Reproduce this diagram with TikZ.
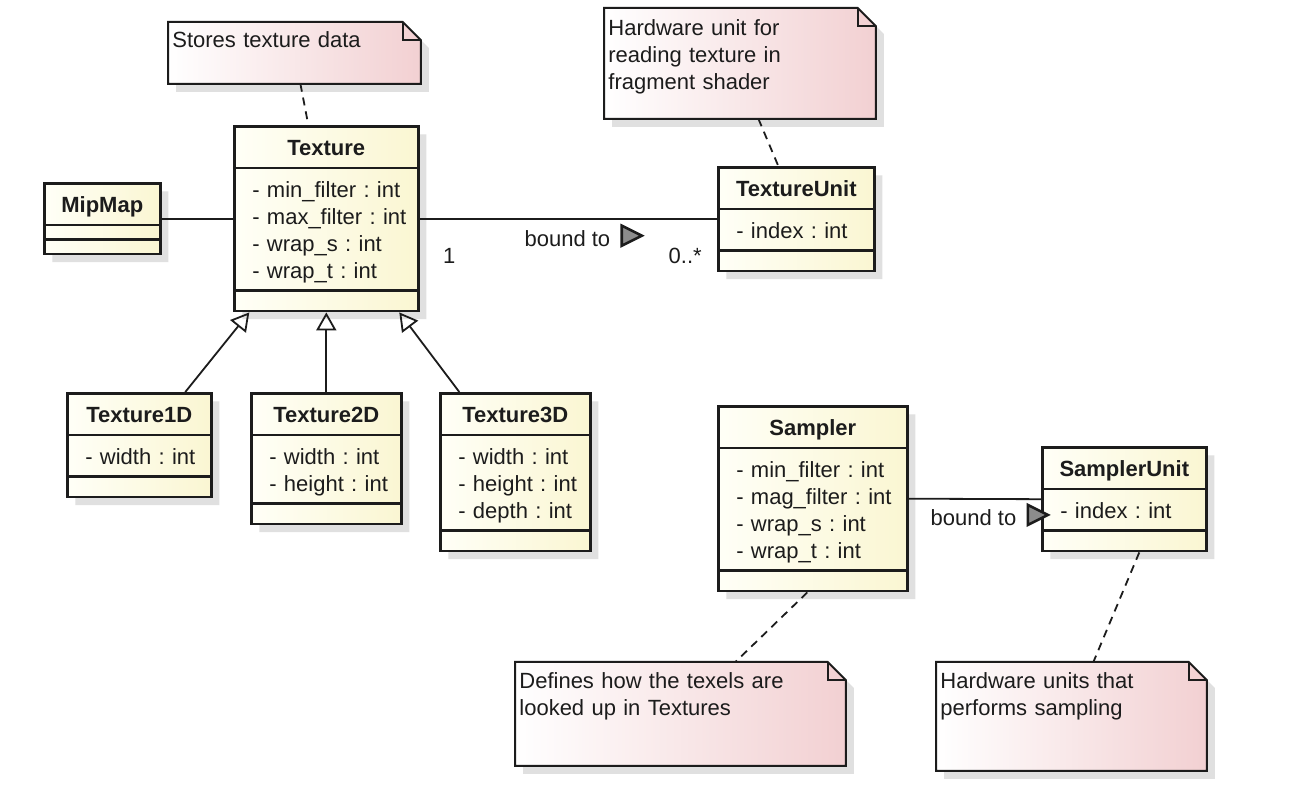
\documentclass[tikz,border=0pt]{standalone}
\usepackage{fontspec}
\setmainfont{Liberation Sans}
\usetikzlibrary{shapes.multipart,shadows,arrows.meta}

\definecolor{ink}{RGB}{28,28,28}
\definecolor{classlight}{RGB}{255,255,247}
\definecolor{classdark}{RGB}{250,246,210}
\definecolor{notepink}{RGB}{242,208,210}

\pgfdeclarelayer{background}
\pgfsetlayers{background,main}

% one row of a class box
\newcommand{\attrrow}{\hspace*{4pt}\rule[-2.4pt]{0pt}{13.5pt}}
\newcommand{\titlerow}[1]{\makebox[\hsize]{\bfseries\rule[-2.5pt]{0pt}{13.5pt}#1}}
\newcommand{\emptyrow}{\rule{0pt}{3pt}}

% folded paper behind a note
\newcommand{\foldnote}[1]{%
  \path[notepaper] (#1.north west) -- ([xshift=-9pt]#1.north east)
    -- ([yshift=-9pt]#1.north east) -- (#1.south east) -- (#1.south west) -- cycle;
  \draw[ink,line width=1pt] ([xshift=-9pt]#1.north east) |- ([yshift=-9pt]#1.north east);}

\tikzset{
  umlclass/.style={rectangle split, rectangle split parts=3, anchor=north west,
    draw=ink, line width=1.3pt, left color=classlight, right color=classdark,
    inner xsep=5pt, inner ysep=3pt, align=left,
    rectangle split empty part height=0pt,
    drop shadow={shadow xshift=4pt,shadow yshift=-4pt,fill=black!12,opacity=1}},
  notetext/.style={anchor=north west, inner xsep=2pt, inner ysep=0pt, align=left},
  notepaper/.style={draw=ink, line width=1pt, left color=white, right color=notepink,
    drop shadow={shadow xshift=4pt,shadow yshift=-4pt,fill=black!12,opacity=1}},
  notelink/.style={draw=ink, line width=0.9pt, dash pattern=on 4pt off 3pt},
  assoc/.style={draw=ink, line width=0.9pt},
  inherit/.style={draw=ink, line width=0.9pt, -{Triangle[open,length=9pt,width=10pt]}},
  navtri/.style={draw=ink, line width=1.3pt, fill=black!45, line join=miter}
}

\begin{document}
\frenchspacing
\begin{tikzpicture}[x=0.5pt, y=-0.5pt, font=\fontsize{11pt}{13.5pt}\selectfont, text=ink]
\begin{pgfonlayer}{background}
  \path[fill=white, use as bounding box] (0,0) rectangle (1314,790);
\end{pgfonlayer}

% classes
\node[umlclass, text width=82pt] (texture) at (233,125)
  {\titlerow{Texture}
   \nodepart{second}\attrrow- min\_filter : int\\\attrrow- max\_filter : int\\
   \attrrow- wrap\_s : int\\\attrrow- wrap\_t : int
   \nodepart{third}\emptyrow};
\node[umlclass, text width=48pt] (mipmap) at (43,182)
  {\titlerow{MipMap} \nodepart{second} \nodepart{third}};
\node[umlclass, text width=68pt] (textureunit) at (717,166)
  {\titlerow{TextureUnit}
   \nodepart{second}\attrrow- index : int
   \nodepart{third}\emptyrow};
\node[umlclass, text width=62pt] (texture1d) at (66,392)
  {\titlerow{Texture1D}
   \nodepart{second}\attrrow- width : int
   \nodepart{third}\emptyrow};
\node[umlclass, text width=65pt] (texture2d) at (250,392)
  {\titlerow{Texture2D}
   \nodepart{second}\attrrow- width : int\\\attrrow- height : int
   \nodepart{third}\emptyrow};
\node[umlclass, text width=65pt] (texture3d) at (439,392)
  {\titlerow{Texture3D}
   \nodepart{second}\attrrow- width : int\\\attrrow- height : int\\\attrrow- depth : int
   \nodepart{third}\emptyrow};
\node[umlclass, text width=84.5pt] (sampler) at (717,405)
  {\titlerow{Sampler}
   \nodepart{second}\attrrow- min\_filter : int\\\attrrow- mag\_filter : int\\
   \attrrow- wrap\_s : int\\\attrrow- wrap\_t : int
   \nodepart{third}\emptyrow};
\node[umlclass, text width=72pt] (samplerunit) at (1041,446)
  {\titlerow{SamplerUnit}
   \nodepart{second}\attrrow- index : int
   \nodepart{third}\emptyrow};

% notes
\node[notetext, text width=122pt, text height=12.5pt, text depth=18pt] (ntexture) at (168,22)
  {Stores texture data};
\node[notetext, text width=131.5pt, text height=13.5pt, text depth=41.5pt] (ntexunit) at (604,8)
  {Hardware unit for\\reading texture in\\fragment shader};
\node[notetext, text width=161pt, text height=13pt, text depth=38.5pt] (nsampler) at (515,662)
  {Defines how the texels are\\looked up in Textures};
\node[notetext, text width=131pt, text height=13pt, text depth=41pt] (nsunit) at (936,662)
  {Hardware units that\\performs sampling};
\begin{pgfonlayer}{background}
  \foldnote{ntexture}
  \foldnote{ntexunit}
  \foldnote{nsampler}
  \foldnote{nsunit}
\end{pgfonlayer}

% associations
\draw[assoc] (mipmap.east) -- (mipmap.east -| texture.west);
\draw[assoc] (texture.east) --
  node[pos=0.1, yshift=-18.5pt] (mult1) {1}
  node[pos=0.497, yshift=-10pt] (bound1) {bound to}
  node[pos=0.893, yshift=-18.5pt] (mult2) {0..*}
  (texture.east -| textureunit.west);
\draw[navtri] ([xshift=2pt,yshift=6.5pt]bound1.east) -- ++(10pt,-5pt) -- ++(-10pt,-5pt) -- cycle;
\draw[assoc] (sampler.east) --
  node[pos=0.49, yshift=-9.5pt] (bound2) {bound to}
  (samplerunit.west);
\draw[navtri] ([xshift=2pt,yshift=6.5pt]bound2.east) -- ++(10pt,-5pt) -- ++(-10pt,-5pt) -- cycle;

% generalisations
\draw[inherit] ([xshift=23pt]texture1d.north) -- ([xshift=-38.5pt]texture.south);
\draw[inherit] (texture2d.north) -- (texture.south);
\draw[inherit] ([xshift=-28pt]texture3d.north) -- ([xshift=36.5pt]texture.south);

% note links
\draw[notelink] ([xshift=3pt]ntexture.south) -- ([xshift=-9pt]texture.north);
\draw[notelink] ([xshift=9.25pt]ntexunit.south) -- ([xshift=-9pt]textureunit.north);
\draw[notelink] ([xshift=-2.75pt]sampler.south) -- ([xshift=27.5pt]nsampler.north);
\draw[notelink] ([xshift=7.5pt]samplerunit.south) -- ([xshift=11pt]nsunit.north);
\end{tikzpicture}
\end{document}
